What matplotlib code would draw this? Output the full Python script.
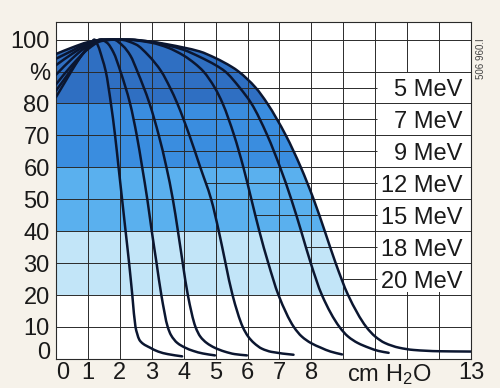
import numpy as np
import matplotlib

matplotlib.use("Agg")
import matplotlib.pyplot as plt
from matplotlib.patches import PathPatch, Rectangle
from matplotlib.path import Path

plt.rcParams["font.family"] = ["Liberation Sans", "DejaVu Sans"]
plt.rcParams["mathtext.fontset"] = "custom"
plt.rcParams["mathtext.rm"] = "Liberation Sans"
plt.rcParams["mathtext.default"] = "rm"

# depth-dose curves: depth (cm H2O), dose (%)
e5_x = [0, 0.3, 0.6, 0.9, 1.1, 1.2, 1.32, 1.45, 1.56, 1.72, 1.85, 1.96, 2.07,
        2.18, 2.29, 2.39, 2.49, 2.54, 2.61, 2.72, 2.95, 3.2, 3.5, 3.95]
e5_y = [82, 87, 92, 96.5, 99, 100, 98, 94, 90, 80, 70, 60, 50,
        40, 30, 20, 10, 8, 6, 4.8, 3.5, 2.3, 1.5, 0.8]

e7_x = [0, 0.4, 0.8, 1.15, 1.4, 1.6, 1.8, 2.02, 2.32, 2.53, 2.7, 2.86, 3.0,
        3.15, 3.3, 3.5, 3.6, 3.8, 4.05, 4.3, 4.6, 4.98]
e7_y = [84, 89.5, 95, 98.8, 100, 99, 96, 90, 80, 70, 60, 50, 40,
        30, 20, 10, 7.5, 5, 3.5, 2.5, 1.7, 1.1]

e9_x = [0, 0.5, 1.0, 1.4, 1.8, 2.1, 2.33, 2.55, 2.93, 3.22, 3.46, 3.66, 3.82,
        3.97, 4.13, 4.37, 4.52, 4.72, 4.97, 5.28, 5.6, 5.98]
e9_y = [86, 92, 97, 99.5, 100, 98, 95, 90, 80, 70, 60, 50, 40,
        30, 20, 10, 7, 5, 3.5, 2.3, 1.5, 1.1]

e12_x = [0, 0.5, 1.0, 1.5, 2.0, 2.5, 2.9, 3.3, 3.57, 3.8, 4.18, 4.52, 4.86,
         5.1, 5.31, 5.53, 5.85, 6.02, 6.2, 6.45, 6.75, 7.44]
e12_y = [89, 94, 98, 99.8, 100, 98.5, 95, 90, 85, 80, 70, 60, 50,
         40, 30, 20, 10, 7, 5, 3.2, 2.2, 1.3]

e15_x = [0, 0.5, 1.0, 1.5, 2.2, 3.0, 3.5, 4.0, 4.35, 4.62, 4.97, 5.22, 5.58,
         5.87, 6.12, 6.37, 6.65, 6.97, 7.45, 7.7, 7.98, 8.3, 8.6, 8.96]
e15_y = [92, 95.5, 98.5, 100, 100, 99, 97.5, 95, 92.5, 90, 85, 80, 70,
         60, 50, 40, 30, 20, 10, 7, 5, 3.5, 2.3, 1.4]

e18_x = [0, 0.5, 1.0, 1.5, 2.3, 3.0, 3.5, 4.0, 4.5, 5.0, 5.3, 5.75, 6.12,
         6.62, 7.02, 7.37, 7.68, 7.98, 8.33, 8.88, 9.15, 9.45, 9.8, 10.1,
         10.42]
e18_y = [94, 96.5, 99, 100, 100, 99.3, 98.2, 96.8, 94.6, 92, 90, 85, 80,
         70, 60, 50, 40, 30, 20, 10, 7, 5, 3.5, 2.5, 1.9]

e20_x = [0, 0.5, 1.0, 1.5, 2.2, 3.0, 3.5, 4.0, 4.5, 5.0, 5.5, 5.72, 6.25,
         6.62, 7.2, 7.67, 8.07, 8.42, 8.76, 9.15, 9.72, 10.0, 10.3, 10.75,
         11.2, 12.0, 13.0]
e20_y = [95.5, 97.5, 99.2, 100, 100, 99.3, 98.5, 97.5, 96.3, 94.2, 91.5, 90,
         85, 80, 70, 60, 50, 40, 30, 20, 10, 7, 5, 3.5,
         2.8, 2.4, 2.3]

energies = ["5 MeV", "7 MeV", "9 MeV", "12 MeV", "15 MeV", "18 MeV", "20 MeV"]
curves = [(e5_x, e5_y), (e7_x, e7_y), (e9_x, e9_y), (e12_x, e12_y),
          (e15_x, e15_y), (e18_x, e18_y), (e20_x, e20_y)]
label_levels = [85, 75, 65, 55, 45, 35, 25]

# isodose bands shaded under the outer curve
band_edges = [20, 40, 60, 80, 106]
band_colors = ["#c2e5f8", "#5ab0ee", "#3a8ddf", "#2f6fc2"]

y_ticks = [0, 10, 20, 30, 40, 50, 60, 70, 80, 90, 100]
y_labels = ["0", "10", "20", "30", "40", "50", "60", "70", "80", "%", "100"]
x_ticks = [0, 1, 2, 3, 4, 5, 6, 7, 8, 10.44, 13]
x_labels = ["0", "1", "2", "3", "4", "5", "6", "7", "8", "cm H$_2$O", "13"]

line_col = "#0b1630"
grid_col = "#2a2a2a"


def smooth_path(xs, ys):
    """Monotone cubic (Fritsch-Carlson) through the points, as Bezier segments."""
    x = np.asarray(xs, float)
    y = np.asarray(ys, float)
    h = np.diff(x)
    d = np.diff(y) / h
    m = np.empty_like(x)
    m[0], m[-1] = d[0], d[-1]
    for i in range(1, len(x) - 1):
        if d[i - 1] * d[i] <= 0:
            m[i] = 0.0
        else:
            w1 = 2 * h[i] + h[i - 1]
            w2 = h[i] + 2 * h[i - 1]
            m[i] = (w1 + w2) / (w1 / d[i - 1] + w2 / d[i])
    verts = [(x[0], y[0])]
    codes = [Path.MOVETO]
    for i in range(len(x) - 1):
        verts += [(x[i] + h[i] / 3, y[i] + m[i] * h[i] / 3),
                  (x[i + 1] - h[i] / 3, y[i + 1] - m[i + 1] * h[i] / 3),
                  (x[i + 1], y[i + 1])]
        codes += [Path.CURVE4] * 3
    return verts, codes


fig = plt.figure(figsize=(5.0, 3.88), dpi=100, facecolor="#f6f2ea")
ax = fig.add_axes([0.112, 0.075, 0.83, 0.869])
ax.set_facecolor("white")
ax.set_xlim(0, 13)
ax.set_ylim(0, 105.6)

# shaded bands, clipped to the area below the 20 MeV curve
ov, oc = smooth_path(e20_x, e20_y)
ov = ov + [(e20_x[-1], 0), (e20_x[0], 0), (e20_x[0], e20_y[0])]
oc = oc + [Path.LINETO, Path.LINETO, Path.CLOSEPOLY]
outline = PathPatch(Path(ov, oc), transform=ax.transData)
for lo, hi, c in zip(band_edges[:-1], band_edges[1:], band_colors):
    span = ax.axhspan(lo, hi, color=c, lw=0, zorder=0.5)
    span.set_clip_path(outline)

# grid: verticals sit under the label box, horizontals above it
ax.vlines(range(0, 14), 0, 105.6, color=grid_col, lw=0.7, zorder=1)
box_lo, box_hi = min(label_levels) - 4, max(label_levels) + 5
ax.add_patch(Rectangle((10.05, box_lo), 2.95, box_hi - box_lo,
                       facecolor="white", edgecolor="none", zorder=1.5))
ax.hlines(y_ticks[1:], 0, 13, color=grid_col, lw=0.7, zorder=2)

for (xs, ys), name, lvl in zip(curves, energies, label_levels):
    v, c = smooth_path(xs, ys)
    ax.add_patch(PathPatch(Path(v, c), facecolor="none", edgecolor=line_col,
                           lw=1.8, capstyle="round", joinstyle="round",
                           zorder=3))
    peak = int(np.argmax(ys))
    fx, fy = np.asarray(xs[peak:]), np.asarray(ys[peak:])
    x0 = np.interp(lvl, fy[::-1], fx[::-1])
    ax.hlines(lvl, x0, 10.05, color=grid_col, lw=0.7, zorder=2)
    ax.text(12.72, lvl, name, ha="right", va="center_baseline",
            fontsize=17, color="#1a1a1a", zorder=4)

for s in ax.spines.values():
    s.set_color(grid_col)
    s.set_linewidth(0.8)

ax.set_yticks(y_ticks)
ax.set_yticklabels(y_labels)
ax.set_xticks(x_ticks)
ax.set_xticklabels(x_labels)
ax.tick_params(length=0, labelsize=17, labelcolor="#1a1a1a")
ax.tick_params(axis="y", pad=4.5)
ax.tick_params(axis="x", pad=2.2)
ax.get_xticklabels()[0].set_horizontalalignment("left")
ax.get_yticklabels()[0].set_verticalalignment("baseline")

fig.text(0.962, 0.85, "506 960.I", rotation=90, fontsize=7, color="#444444",
         ha="center", va="center")

fig.savefig("out.png", dpi=100, facecolor=fig.get_facecolor())
